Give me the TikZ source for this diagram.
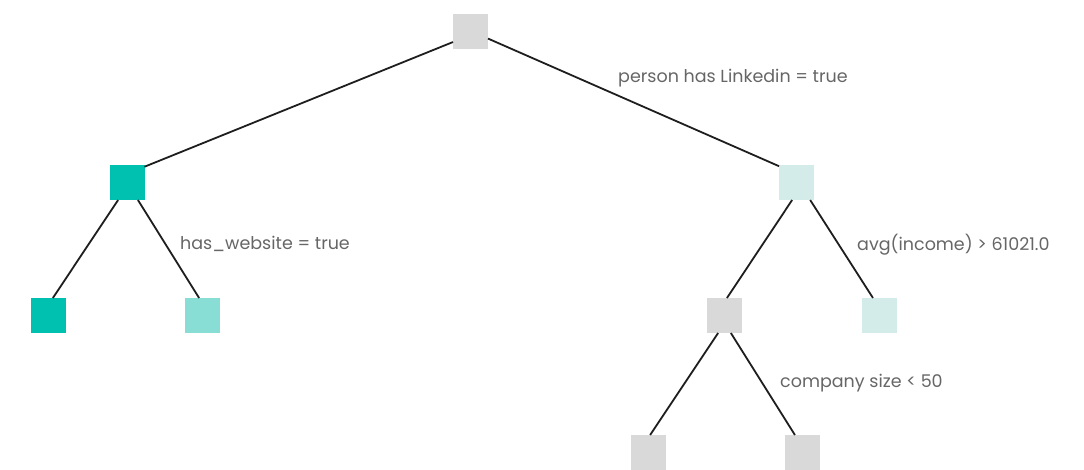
\documentclass[tikz,border=0pt]{standalone}
\usepackage{fontspec}
\setmainfont{Poppins}
\definecolor{rootgray}{HTML}{D9D9D9}
\definecolor{tealdark}{HTML}{00C0B0}
\definecolor{tealmid}{HTML}{88DDD5}
\definecolor{teallight}{HTML}{D3ECEA}
\definecolor{labelgray}{HTML}{666666}
\definecolor{edgecol}{HTML}{1E1E1E}
\tikzset{
  leaf/.style={minimum size=35pt, inner sep=0pt, outer sep=0pt, draw=none},
  edge/.style={draw=edgecol, line width=1.8pt},
  cond/.style={text=labelgray, font=\fontsize{17.5}{20}\selectfont, anchor=base west, inner sep=0pt}
}
\begin{document}
\begin{tikzpicture}[x=1pt,y=-1pt]
\useasboundingbox (0,0) rectangle (1084,469);
\clip (0,0) rectangle (1084,469);
% nodes
\node[leaf, fill=rootgray] (root) at (470.5,31.5) {};
\node[leaf, fill=tealdark] (l) at (127,182.5) {};
\node[leaf, fill=teallight] (r) at (796.5,182.5) {};
\node[leaf, fill=tealdark] (ll) at (48.5,315.5) {};
\node[leaf, fill=tealmid] (lr) at (202.5,315.5) {};
\node[leaf, fill=rootgray] (rl) at (724.5,315.5) {};
\node[leaf, fill=teallight] (rr) at (879,315.5) {};
\node[leaf, fill=rootgray] (rll) at (648,452.5) {};
\node[leaf, fill=rootgray] (rlr) at (802,452.5) {};
% edges
\draw[edge] (root.211) -- (l.42);
\draw[edge] (root.338) -- (r.137);
\draw[edge] (l.243) -- (ll.76);
\draw[edge] (l.302) -- (lr.101);
\draw[edge] (r.256) -- (rl.82);
\draw[edge] (r.308) -- (rr.109);
\draw[edge] (rl.250) -- (rll.83);
\draw[edge] (rl.290) -- (rlr.112);
% labels
\node[cond] (c1) at (618,82.5) {person has Linkedin = true};
\node[cond] (c2) at (180,249) {has\_website = true};
\node[cond] (c3) at (857,250) {avg(income) > 61021.0};
\node[cond] (c4) at (780,387) {company size < 50};
\end{tikzpicture}
\end{document}
